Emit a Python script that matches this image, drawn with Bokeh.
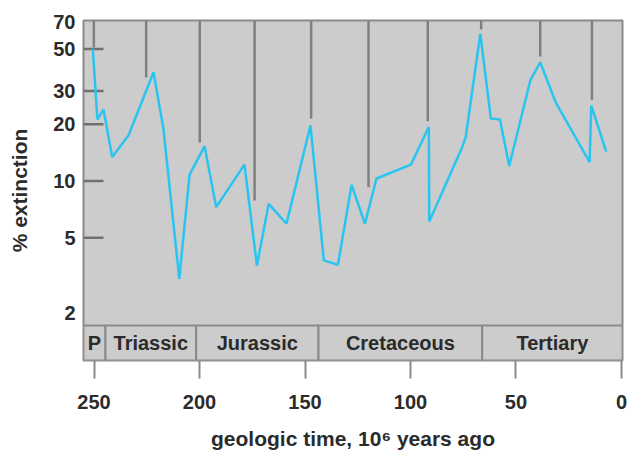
from bokeh.plotting import figure
from bokeh.models import Range1d, FixedTicker, BasicTickFormatter, ColumnDataSource
from bokeh.core.properties import value
from bokeh.embed import file_html
from bokeh.resources import INLINE

# ---- data ----
time_mya = [250.6, 248.4, 245.5, 241.4, 233.7, 221.8, 217.1, 209.6, 204.7, 197.6,
            192.1, 178.7, 172.8, 167.2, 158.8, 147.4, 141.1, 134.4, 127.9, 121.6,
            116.1, 99.8, 91.3, 91.1, 75.8, 73.8, 66.9, 61.9, 57.6, 53.2,
            43.2, 38.5, 31.1, 15.1, 14.3, 7.2]
extinction_pct = [50.2, 21.2, 23.9, 13.4, 17.4, 37.7, 18.9, 3.03, 10.8, 15.3,
                  7.26, 12.2, 3.56, 7.56, 5.93, 19.7, 3.79, 3.59, 9.54, 5.93,
                  10.3, 12.2, 19.3, 6.10, 14.8, 17.1, 60.3, 21.4, 21.2, 12.0,
                  34.1, 42.6, 26.0, 12.6, 25.1, 14.3]

event_mya = [250.1, 225.3, 199.9, 173.9, 147.1, 119.9, 91.8, 66.5, 38.5, 14.0]
event_line_end = [51.0, 35.4, 16.0, 7.88, 21.4, 9.26, 20.7, 63.5, 45.7, 26.9]

period_names = ["P", "Triassic", "Jurassic", "Cretaceous", "Tertiary"]
period_start = [255.0, 244.6, 201.6, 143.6, 66.0]
period_end = [244.6, 201.6, 143.6, 66.0, -0.5]

x_ticks = [250, 200, 150, 100, 50, 0]
y_ticks = [2, 5, 10, 20, 30, 50, 70]
y_tick_marks = [5.0, 10.0, 20.0, 30.0, 50.0]

X_START, X_END = 255.0, -0.5
Y_BOTTOM, Y_TOP = 1.117, 70.9
BAND_TOP = 1.712
FRAME_W, FRAME_H = 539, 340

FONT = "Liberation Sans"
TXT = "#2b2b2b"
GRAY_LINE = "#808080"
BLUE = "#29c5f0"

p = figure(frame_width=FRAME_W, frame_height=FRAME_H, y_axis_type="log",
           x_range=Range1d(X_START, X_END), y_range=Range1d(Y_BOTTOM, Y_TOP),
           output_backend="svg", toolbar_location=None,
           min_border_left=83, min_border_top=20, min_border_right=6)

p.background_fill_color = "#cccccc"
p.border_fill_color = "white"
p.outline_line_color = "#8a8a8a"
p.outline_line_width = 2
p.grid.visible = False

# period band
band = ColumnDataSource(dict(
    left=period_start, right=period_end,
    bottom=[Y_BOTTOM] * len(period_names), top=[BAND_TOP] * len(period_names),
    mid=[(a + b) / 2 for a, b in zip(period_start, period_end)],
    ymid=[(Y_BOTTOM * BAND_TOP) ** 0.5] * len(period_names),
    name=period_names))
p.quad(left="left", right="right", bottom="bottom", top="top", source=band,
       fill_color="#cccccc", line_color="#8a8a8a", line_width=2)
p.text(x="mid", y="ymid", text="name", source=band,
       text_font=value(FONT), text_font_style="bold", text_font_size="20px",
       text_align="center", text_baseline="middle", text_color=TXT)

# y tick marks drawn inward from the left edge
tick_len = 20.0 * (X_START - X_END) / FRAME_W
ticks_src = ColumnDataSource(dict(
    x0=[X_START] * len(y_tick_marks),
    x1=[X_START - tick_len] * len(y_tick_marks),
    y=y_tick_marks))
p.segment(x0="x0", x1="x1", y0="y", y1="y", source=ticks_src,
          line_color="#707070", line_width=2.5)

# extinction event markers
p.segment(x0=event_mya, x1=event_mya, y0=[Y_TOP] * len(event_mya), y1=event_line_end,
          line_color=GRAY_LINE, line_width=2.5)

# extinction curve
p.line(time_mya, extinction_pct, line_color=BLUE, line_width=2.5)

# axes
xa = p.xaxis[0]
xa.ticker = FixedTicker(ticks=x_ticks)
xa.axis_line_color = None
xa.major_tick_in = 0
xa.major_tick_out = 18
xa.major_tick_line_color = "#8a8a8a"
xa.major_tick_line_width = 2
xa.minor_tick_line_color = None
xa.major_label_standoff = 16
xa.major_label_text_font = FONT
xa.major_label_text_font_style = "bold"
xa.major_label_text_font_size = "20px"
xa.major_label_text_color = TXT
xa.axis_label = "geologic time, 10\u2076 years ago"
xa.axis_label_text_font = FONT
xa.axis_label_text_font_style = "bold"
xa.axis_label_text_font_size = "21px"
xa.axis_label_text_color = TXT
xa.axis_label_standoff = 15

ya = p.yaxis[0]
ya.ticker = FixedTicker(ticks=y_ticks)
ya.formatter = BasicTickFormatter()
ya.axis_line_color = None
ya.major_tick_in = 0
ya.major_tick_out = 0
ya.minor_tick_line_color = None
ya.major_label_standoff = 8
ya.major_label_text_font = FONT
ya.major_label_text_font_style = "bold"
ya.major_label_text_font_size = "20px"
ya.major_label_text_color = TXT
ya.axis_label = "% extinction"
ya.axis_label_text_font = FONT
ya.axis_label_text_font_style = "bold"
ya.axis_label_text_font_size = "21px"
ya.axis_label_text_color = TXT
ya.axis_label_standoff = 19

open("out.html", "w").write(file_html(p, INLINE))
